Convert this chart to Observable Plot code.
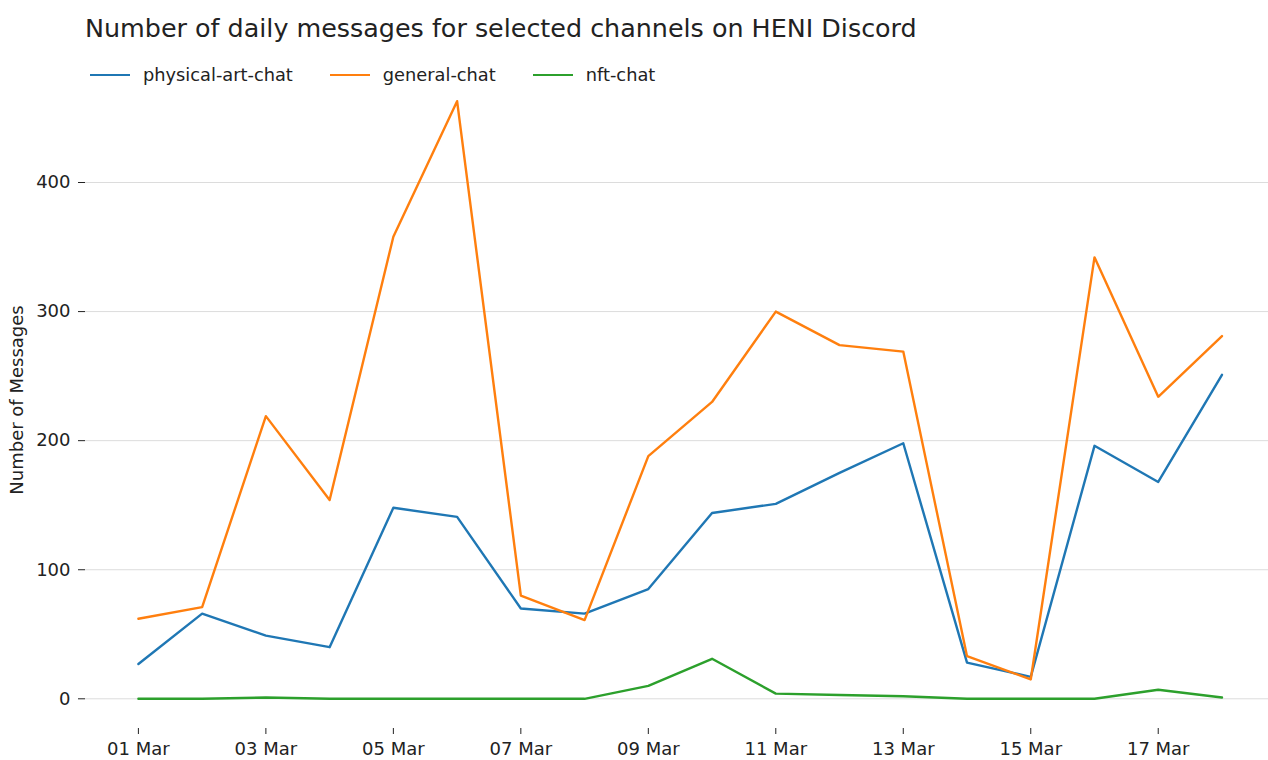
<!DOCTYPE html>
<html>
<head>
<meta charset="utf-8">
<script src="https://cdn.jsdelivr.net/npm/d3@7"></script>
<script src="https://cdn.jsdelivr.net/npm/@observablehq/plot@0.6"></script>
<style>
  body { margin: 0; background: #fff; font-family: "DejaVu Sans", sans-serif; color: #222; }
  #title { position: absolute; left: 85px; top: 13px; font-size: 25.4px; white-space: nowrap; z-index: 2; }
  #legend { position: absolute; left: 90px; top: 64px; font-size: 17.8px; display: flex; align-items: center; white-space: nowrap; z-index: 2; }
  .item { display: flex; align-items: center; margin-right: 37px; }
  .sw { width: 40px; height: 0; border-top: 2.4px solid; margin-right: 13px; }
  #chart { position: absolute; left: 0; top: 60px; z-index: 1; }
</style>
</head>
<body>
<div id="title">Number of daily messages for selected channels on HENI Discord</div>
<div id="legend"></div>
<div id="chart"></div>
<script>
const days = ["2022-03-01","2022-03-02","2022-03-03","2022-03-04","2022-03-05","2022-03-06","2022-03-07","2022-03-08","2022-03-09","2022-03-10","2022-03-11","2022-03-12","2022-03-13","2022-03-14","2022-03-15","2022-03-16","2022-03-17","2022-03-18"];
const seriesNames = ["physical-art-chat", "general-chat", "nft-chat"];
const seriesColors = ["#1f77b4", "#ff7f0e", "#2ca02c"];
const physicalArtChat = [27, 66, 49, 40, 148, 141, 70, 66, 85, 144, 151, 175, 198, 28, 17, 196, 168, 251];
const generalChat = [62, 71, 219, 154, 358, 463, 80, 61, 188, 230, 300, 274, 269, 33, 15, 342, 234, 281];
const nftChat = [0, 0, 1, 0, 0, 0, 0, 0, 10, 31, 4, 3, 2, 0, 0, 0, 7, 1];
const yTicks = [0, 100, 200, 300, 400];
const xTickLabels = ["2022-03-01","2022-03-03","2022-03-05","2022-03-07","2022-03-09","2022-03-11","2022-03-13","2022-03-15","2022-03-17"];

const parse = d3.utcParse("%Y-%m-%d");
const valuesBySeries = [physicalArtChat, generalChat, nftChat];
const data = [];
seriesNames.forEach((s, i) => {
  valuesBySeries[i].forEach((v, j) => data.push({series: s, date: parse(days[j]), value: v}));
});

const DAY = 864e5;
const first = parse(days[0]), last = parse(days[days.length - 1]);

const legend = d3.select("#legend");
seriesNames.forEach((s, i) => {
  const it = legend.append("div").attr("class", "item");
  it.append("div").attr("class", "sw").style("border-color", seriesColors[i]);
  it.append("span").text(s);
});

const chart = Plot.plot({
  width: 1268,
  height: 700,
  marginLeft: 85,
  marginRight: 0,
  marginTop: 11,
  marginBottom: 32,
  style: { fontFamily: "DejaVu Sans, sans-serif", fontSize: "18px", color: "#222", background: "transparent" },
  x: { type: "utc", domain: [new Date(+first - 0.83 * DAY), new Date(+last + 0.73 * DAY)] },
  y: { domain: [-23, 486] },
  color: { domain: seriesNames, range: seriesColors },
  marks: [
    Plot.gridY(yTicks, { stroke: "#dcdcdc", strokeOpacity: 1, strokeWidth: 1 }),
    Plot.axisY(yTicks, { tickSize: 7, tickPadding: 8, tickFormat: d => String(d), label: "Number of Messages", labelAnchor: "center", labelArrow: "none", labelOffset: 75 }),
    Plot.axisX(xTickLabels.map(parse), { tickSize: 6, tickPadding: 8, tickFormat: d3.utcFormat("%d %b"), label: null }),
    Plot.line(data, { x: "date", y: "value", z: "series", stroke: "series", strokeWidth: 2.4 })
  ]
});
document.getElementById("chart").appendChild(chart);
</script>
</body>
</html>
